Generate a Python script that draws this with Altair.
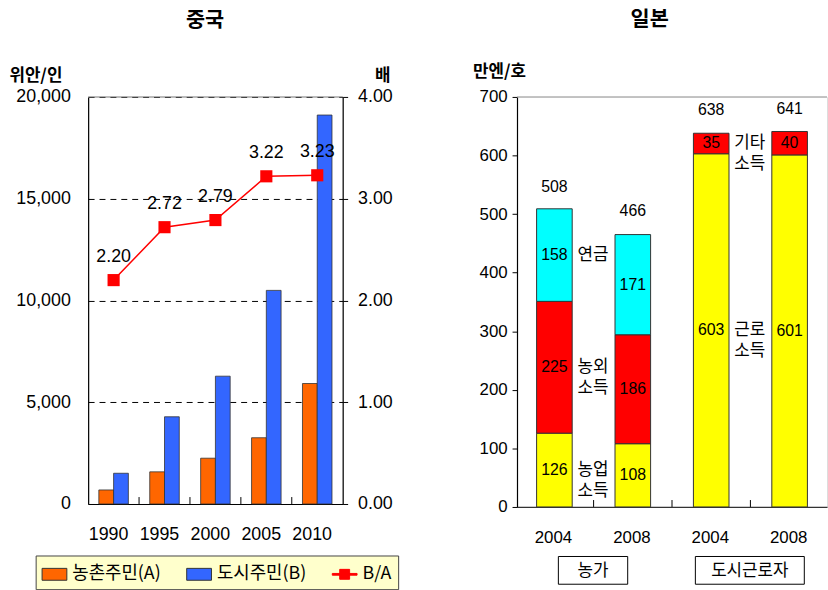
import altair as alt
import pandas as pd

# ---------------- data ----------------
years = ["1990", "1995", "2000", "2005", "2010"]
rural = [690, 1580, 2250, 3255, 5920]
urban = [1510, 4285, 6280, 10495, 19110]
ratio = [2.20, 2.72, 2.79, 3.22, 3.23]
series_names = ["농촌주민(A)", "도시주민(B)", "B/A"]

jp_keys = ["농가 2004", "농가 2008", "도시 2004", "도시 2008"]
farm_agri = [126, 108]
farm_off = [225, 186]
farm_pension = [158, 171]
urban_wage = [603, 601]
urban_other = [35, 40]
jp_totals = [508, 466, 638, 641]
group_names = ["농가", "도시근로자"]
group_keys = ["농가 2004", "도시 2004"]
group_box_w = [70, 110]

KFONT = "Noto Sans CJK KR"
NFONT = "Liberation Sans"

W1, H1 = 257, 411
W2, H2 = 313, 414

T_L = "위안/인"
T_R = "배"
T_J = "만엔/호"

# ---------------- left: China ----------------
bar_df = pd.DataFrame({
    "year": years * 2,
    "series": [series_names[0]] * 5 + [series_names[1]] * 5,
    "value": rural + urban,
})
line_df = pd.DataFrame({"year": years, "ratio": ratio, "series": series_names[2]})

rect_path = "M-1,-0.48H1V0.48H-1Z"
line_sq_path = "M-1,-0.07H1V0.07H-1Z M-0.4,-0.4H0.4V0.4H-0.4Z"
color_scale = alt.Scale(domain=series_names, range=["#FF6600", "#3366FF", "#FF0000"])
stroke_scale = alt.Scale(domain=series_names, range=["#333333", "#333333", "#FF0000"])
shape_scale = alt.Scale(domain=series_names, range=[rect_path, rect_path, line_sq_path])

legend = alt.Legend(
    title=None, orient="none", legendX=-53, legendY=463, direction="horizontal",
    fillColor="#FFFFCC", strokeColor="#444444", padding=6,
    labelFont=KFONT, labelFontSize=18, labelColor="black",
    symbolSize=625, symbolStrokeWidth=1, columnPadding=23, labelOffset=5,
)

pI1 = 0.42
xband1 = alt.Scale(paddingInner=pI1, paddingOuter=pI1 / 2)
step1 = W1 / 5.0
bw1 = step1 * (1 - pI1)

bars = alt.Chart(bar_df).mark_bar(strokeWidth=0.8).encode(
    x=alt.X("year:N", title=None, sort=years, scale=xband1,
            axis=alt.Axis(labelAngle=0, labelFont=NFONT, labelFontSize=18, labelColor="black",
                          labelPadding=31, ticks=False, domainColor="black", domainWidth=1.2,
                          labelOffset=bw1 / 2)),
    xOffset=alt.XOffset("series:N", sort=series_names[:2]),
    y=alt.Y("value:Q", title=T_L, scale=alt.Scale(domain=[0, 20000]),
            axis=alt.Axis(values=[0, 5000, 10000, 15000, 20000], format=",.0f", orient="left",
                          grid=True, gridColor="black", gridDash=[6, 5], gridWidth=1,
                          ticks=False, domainColor="black", domainWidth=1.2,
                          labelFont=NFONT, labelFontSize=18, labelColor="black", labelPadding=18,
                          title=T_L, titleAngle=0, titleAlign="left", titleBaseline="middle",
                          titleX=-80, titleY=-22, titleFont=KFONT, titleFontSize=17,
                          titleFontWeight="bold", titleColor="black")),
    color=alt.Color("series:N", scale=color_scale, legend=legend),
    stroke=alt.Stroke("series:N", scale=stroke_scale, legend=legend),
)

top_rule1 = alt.Chart(pd.DataFrame({"v": [20000]})).mark_rule(color="#888888").encode(
    y=alt.Y("v:Q", title=T_L))

xticks1 = alt.Chart(pd.DataFrame({"year": years[1:]})).mark_rule(
    color="black", xOffset=-step1 / 2).encode(
    x=alt.X("year:N", title=None),
    y=alt.value(H1), y2=alt.value(H1 - 7))

title1 = alt.Chart(pd.DataFrame({"t": ["중국"]})).mark_text(
    font=KFONT, fontSize=21, fontWeight="bold", baseline="middle", color="black").encode(
    text="t:N", x=alt.value(118), y=alt.value(-77))

line = alt.Chart(line_df).mark_line(color="#FF0000", strokeWidth=1.5).encode(
    x=alt.X("year:N", title=None),
    y=alt.Y("ratio:Q", title=T_R, scale=alt.Scale(domain=[0, 4]),
            axis=alt.Axis(orient="right", values=[0, 1, 2, 3, 4], format=".2f", grid=False,
                          tickSize=5, tickColor="black", domainColor="black", domainWidth=1.2,
                          labelFont=NFONT, labelFontSize=18, labelColor="black", labelPadding=10,
                          title=T_R, titleAngle=0, titleAlign="center", titleBaseline="middle",
                          titleX=40, titleY=-22, titleFont=KFONT, titleFontSize=17,
                          titleFontWeight="bold", titleColor="black")),
)
pts = alt.Chart(line_df).mark_square(size=150, color="#FF0000", opacity=1).encode(
    x=alt.X("year:N", title=None), y=alt.Y("ratio:Q", title=T_R))
ratio_lbl = alt.Chart(line_df).mark_text(dy=-23, font=NFONT, fontSize=18, color="black").encode(
    x=alt.X("year:N", title=None), y=alt.Y("ratio:Q", title=T_R),
    text=alt.Text("ratio:Q", format=".2f"))
leg_layer = alt.Chart(line_df).transform_filter("false").mark_point(filled=True, opacity=1).encode(
    x=alt.X("year:N", title=None), y=alt.Y("ratio:Q", title=T_R),
    color=alt.Color("series:N", scale=color_scale, legend=legend),
    stroke=alt.Stroke("series:N", scale=stroke_scale, legend=legend),
    shape=alt.Shape("series:N", scale=shape_scale, legend=legend),
)

left = alt.layer(
    alt.layer(top_rule1, xticks1, bars, title1),
    alt.layer(line, pts, ratio_lbl, leg_layer),
).resolve_scale(y="independent").properties(width=W1, height=H1)

# ---------------- right: Japan ----------------
rows = []
for i, k in enumerate(jp_keys[:2]):
    segs = [(farm_agri[i], "1", "농업\n소득"), (farm_off[i], "2", "농외\n소득"),
            (farm_pension[i], "3", "연금")]
    base = 0
    for v, lay, nm in segs:
        rows.append({"key": k, "value": v, "layer": lay, "name": nm, "y0": base, "y1": base + v})
        base += v
for i, k in enumerate(jp_keys[2:]):
    segs = [(urban_wage[i], "1", "근로\n소득"), (urban_other[i], "2", "기타\n소득")]
    base = 0
    for v, lay, nm in segs:
        rows.append({"key": k, "value": v, "layer": lay, "name": nm, "y0": base, "y1": base + v})
        base += v
seg_df = pd.DataFrame(rows)
seg_df["mid"] = (seg_df["y0"] + seg_df["y1"]) / 2
ann_df = seg_df[seg_df["key"].isin(group_keys)].copy()
tot_df = pd.DataFrame({"key": jp_keys, "total": jp_totals})
grp_df = pd.DataFrame({"g": group_names, "key": group_keys, "w": group_box_w})

pI2, pO2 = 0.546, 0.25
xband2 = alt.Scale(paddingInner=pI2, paddingOuter=pO2)
step2 = W2 / (4 - pI2 + 2 * pO2)
bw2 = step2 * (1 - pI2)
xenc2 = alt.X("key:N", sort=jp_keys, title=None)

bars2 = alt.Chart(seg_df).mark_bar(stroke="#333333", strokeWidth=1).encode(
    x=alt.X("key:N", sort=jp_keys, title=None, scale=xband2,
            axis=alt.Axis(labelExpr="slice(datum.label, -4)", labelAngle=0, ticks=False,
                          labelFont=NFONT, labelFontSize=17, labelColor="black", labelPadding=31,
                          domainColor="#333333", domainWidth=1.2, labelOffset=bw2 / 2)),
    y=alt.Y("y0:Q", title=T_J, scale=alt.Scale(domain=[0, 700]),
            axis=alt.Axis(values=list(range(0, 701, 100)), grid=False, tickSize=5,
                          tickColor="black", domainColor="black", domainWidth=1.2,
                          labelFont=NFONT, labelFontSize=17, labelColor="black", labelPadding=5,
                          title=T_J, titleAngle=0, titleAlign="left", titleBaseline="middle",
                          titleX=-45, titleY=-26, titleFont=KFONT, titleFontSize=17,
                          titleFontWeight="bold", titleColor="black")),
    y2="y1:Q",
    color=alt.Color("layer:N", scale=alt.Scale(domain=["1", "2", "3"],
                                               range=["#FFFF00", "#FF0000", "#00FFFF"]),
                    legend=None),
)
top_rule2 = alt.Chart(pd.DataFrame({"v": [700]})).mark_rule(color="#999999").encode(
    y=alt.Y("v:Q", title=T_J))
xticks2 = alt.Chart(pd.DataFrame({"key": jp_keys[1:]})).mark_rule(
    color="black", xOffset=-step2 / 2).encode(
    x=xenc2, y=alt.value(H2), y2=alt.value(H2 - 7))
seg_lbl = alt.Chart(seg_df).mark_text(font=NFONT, fontSize=16, color="black").encode(
    x=xenc2, y=alt.Y("mid:Q", title=T_J), text="value:Q")
tot_lbl = alt.Chart(tot_df).mark_text(dy=-23, font=NFONT, fontSize=16, color="black").encode(
    x=xenc2, y=alt.Y("total:Q", title=T_J), text="total:Q")
ann_lbl = alt.Chart(ann_df).mark_text(dx=39, lineBreak="\n", lineHeight=21, font=KFONT,
                                      fontSize=17, color="black").encode(
    x=xenc2, y=alt.Y("mid:Q", title=T_J), text="name:N")
grp_box = alt.Chart(grp_df).mark_bar(xOffset=39, fill="white", stroke="black", strokeWidth=1).encode(
    x=xenc2, y=alt.value(H2 + 50), y2=alt.value(H2 + 78),
    size=alt.Size("w:Q", scale=None, legend=None))
grp_txt = alt.Chart(grp_df).mark_text(dx=39, font=KFONT, fontSize=17, color="black",
                                      baseline="middle").encode(
    x=xenc2, y=alt.value(H2 + 65), text="g:N")
title2 = alt.Chart(pd.DataFrame({"t": ["일본"]})).mark_text(
    font=KFONT, fontSize=21, fontWeight="bold", baseline="middle", color="black").encode(
    text="t:N", x=alt.value(134), y=alt.value(-78))

right = alt.layer(top_rule2, xticks2, bars2, seg_lbl, tot_lbl, ann_lbl, grp_box, grp_txt,
                  title2).properties(width=W2, height=H2)

chart = alt.hconcat(left, right, spacing=73).resolve_scale(
    x="independent", y="independent", color="independent", stroke="independent",
    shape="independent", size="independent"
).properties(
    padding={"left": 8, "top": 5, "right": 0, "bottom": 0}
).configure_view(strokeWidth=0).configure(background="white")

chart.save("out.html", embed_options={"renderer": "svg", "actions": False})
